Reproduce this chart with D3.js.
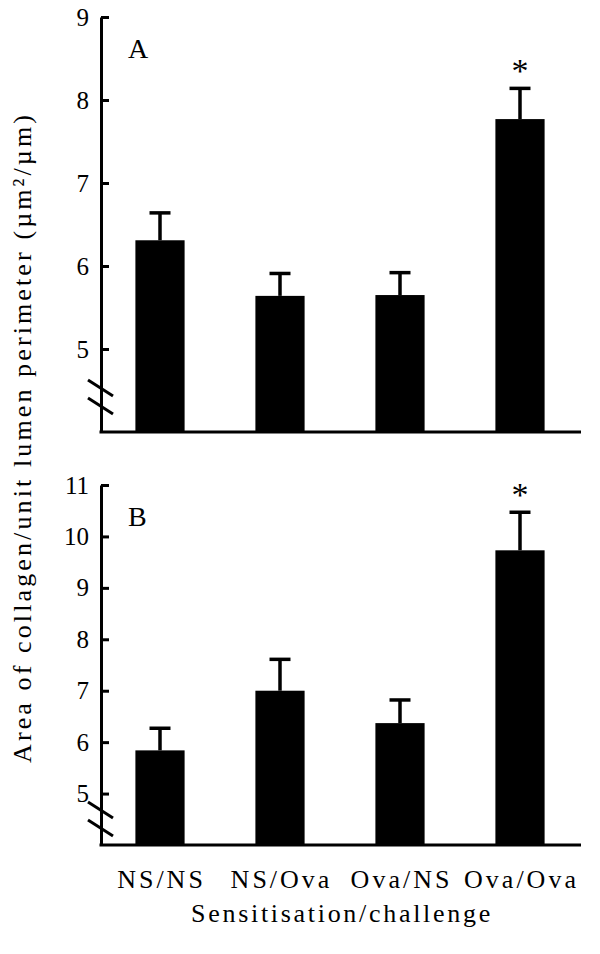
<!DOCTYPE html>
<html>
<head>
<meta charset="utf-8">
<script src="https://cdn.jsdelivr.net/npm/d3@7"></script>
<style>
  html, body { margin: 0; padding: 0; background: #fff; }
  svg { display: block; }
  text { font-family: "Liberation Serif", "Times New Roman", serif; fill: #000; }
</style>
</head>
<body>
<svg id="chart" width="600" height="954"></svg>
<script>
// ---- data ----
const categories = ["NS/NS", "NS/Ova", "Ova/NS", "Ova/Ova"];
const meansA = [6.31, 5.64, 5.65, 7.77];
const semA   = [0.33, 0.27, 0.27, 0.37];
const signifA = [false, false, false, true];
const ticksA = [5, 6, 7, 8, 9];

const meansB = [5.84, 7.00, 6.37, 9.73];
const semB   = [0.43, 0.61, 0.45, 0.74];
const signifB = [false, false, false, true];
const ticksB = [5, 6, 7, 8, 9, 10, 11];

const panelLabels = ["A", "B"];
const yTitle = "Area of collagen/unit lumen perimeter (\u00b5m\u00b2/\u00b5m)";
const xTitle = "Sensitisation/challenge";

// ---- layout ----
const svg = d3.select("#chart");
const axisX = 101;
const xEnd = 581;

const x = d3.scaleBand()
  .domain(categories)
  .range([100, 580])
  .paddingInner(0.59)
  .paddingOuter(0.295);

const panels = [
  { label: panelLabels[0], means: meansA, sem: semA, sig: signifA, ticks: ticksA,
    y: d3.scaleLinear().domain([4, 9]).range([432, 17]), breaks: [44, 26] },
  { label: panelLabels[1], means: meansB, sem: semB, sig: signifB, ticks: ticksB,
    y: d3.scaleLinear().domain([4, 11]).range([845, 485]), breaks: [35, 17] }
];

panels.forEach(p => {
  const g = svg.append("g");
  const base = p.y.range()[0];

  // bars
  g.selectAll("rect.bar").data(categories).enter().append("rect")
    .attr("x", d => x(d))
    .attr("width", x.bandwidth())
    .attr("y", (d, i) => p.y(p.means[i]))
    .attr("height", (d, i) => base - p.y(p.means[i]))
    .attr("fill", "#000");

  // error bars
  const cap = 21;
  categories.forEach((c, i) => {
    const cx = x(c) + x.bandwidth() / 2;
    const top = p.y(p.means[i] + p.sem[i]);
    g.append("line").attr("x1", cx).attr("x2", cx)
      .attr("y1", p.y(p.means[i])).attr("y2", top)
      .attr("stroke", "#000").attr("stroke-width", 3.5);
    g.append("line").attr("x1", cx - cap / 2).attr("x2", cx + cap / 2)
      .attr("y1", top).attr("y2", top)
      .attr("stroke", "#000").attr("stroke-width", 3.5);
    if (p.sig[i]) {
      g.append("text").attr("x", cx).attr("y", top - 6)
        .attr("text-anchor", "middle").attr("font-size", 34).text("*");
    }
  });

  // y axis
  const ax = g.append("g").attr("transform", `translate(${axisX},0)`)
    .call(d3.axisLeft(p.y).tickValues(p.ticks).tickFormat(d3.format("d"))
      .tickSizeInner(-8).tickSizeOuter(0).tickPadding(12));
  ax.select(".domain").attr("stroke-width", 3).attr("stroke", "#000");
  ax.selectAll(".tick line").attr("stroke-width", 3).attr("stroke", "#000");
  ax.selectAll(".tick text")
    .attr("font-family", "Liberation Serif, Times New Roman, serif")
    .attr("font-size", 25).attr("fill", "#000");

  // x axis line
  g.append("line").attr("x1", axisX - 1.5).attr("x2", xEnd)
    .attr("y1", base).attr("y2", base)
    .attr("stroke", "#000").attr("stroke-width", 3);

  // axis break slashes
  p.breaks.forEach(off => {
    const cy = base - off;
    g.append("line")
      .attr("x1", axisX - 13).attr("y1", cy - 8)
      .attr("x2", axisX + 12).attr("y2", cy + 8)
      .attr("stroke", "#000").attr("stroke-width", 3);
  });

  // panel label
  g.append("text").attr("x", 128).attr("y", p.y.range()[1] + 41)
    .attr("font-size", 28).text(p.label);
});

// x tick labels
svg.append("g").selectAll("text").data(categories).enter().append("text")
  .attr("x", d => x(d) + x.bandwidth() / 2 + 1.5)
  .attr("y", 888)
  .attr("text-anchor", "middle")
  .attr("font-size", 26)
  .attr("letter-spacing", 3)
  .text(d => d);

// x title
svg.append("text").attr("x", 342).attr("y", 922)
  .attr("text-anchor", "middle").attr("font-size", 26)
  .attr("letter-spacing", 2.7)
  .text(xTitle);

// y title
svg.append("text")
  .attr("transform", "translate(31,439) rotate(-90)")
  .attr("text-anchor", "middle").attr("font-size", 26)
  .attr("textLength", 648).attr("lengthAdjust", "spacing")
  .text(yTitle);
</script>
</body>
</html>
